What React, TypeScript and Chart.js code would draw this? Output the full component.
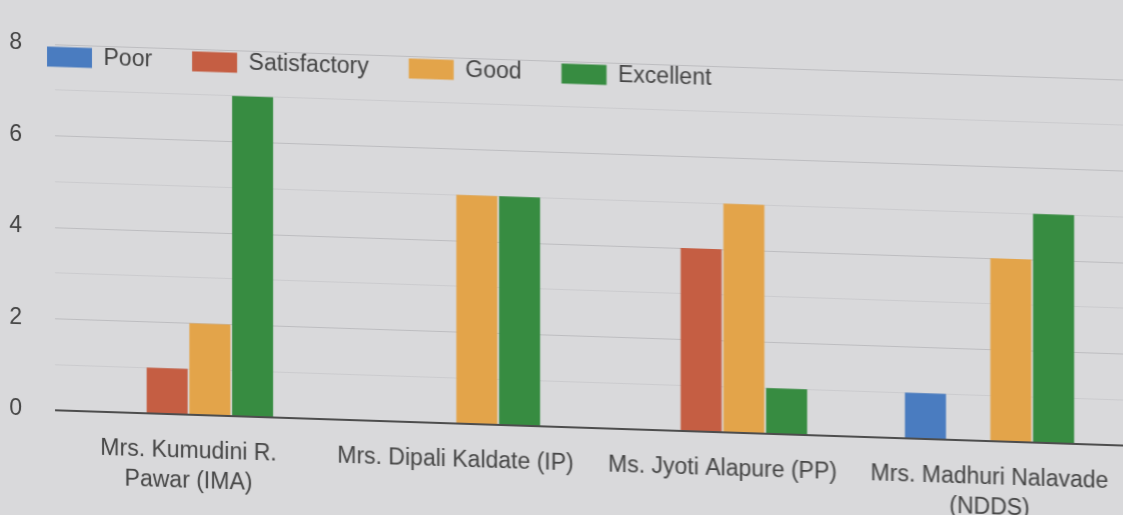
import React, { useEffect, useRef } from "react";
import { Chart, registerables } from "chart.js";

Chart.register(...registerables);

const categories: (string | string[])[] = [
  ["Mrs. Kumudini R.", "Pawar (IMA)"],
  "Mrs. Dipali Kaldate (IP)",
  "Ms. Jyoti Alapure (PP)",
  ["Mrs. Madhuri Nalavade", "(NDDS)"],
];
const seriesNames = ["Poor", "Satisfactory", "Good", "Excellent"];
const poorValues = [0, 0, 0, 1];
const satisfactoryValues = [1, 0, 4, 0];
const goodValues = [2, 5, 5, 4];
const excellentValues = [7, 5, 1, 5];
const yTickLabels = [0, 2, 4, 6, 8];
const seriesColors = ["#4a7cc0", "#c55e43", "#e3a44a", "#378c41"];

export default function App() {
  const ref = useRef<HTMLCanvasElement | null>(null);

  useEffect(() => {
    if (!ref.current) return;
    Chart.defaults.font.family = "'Liberation Sans', Arial, sans-serif";

    const legendPlace = {
      id: "legendPlace",
      afterLayout(chart: any) {
        const lg = chart.legend;
        if (!lg) return;
        lg.left = 7;
        lg.right = 1100;
        lg.top = 22;
        lg.height = 80;
        lg.bottom = lg.top + lg.height;
      },
    };

    const values = [poorValues, satisfactoryValues, goodValues, excellentValues];
    const chart = new Chart(ref.current, {
      type: "bar",
      data: {
        labels: categories,
        datasets: seriesNames.map((name, i) => ({
          label: name,
          data: values[i],
          backgroundColor: seriesColors[i],
          borderWidth: 0,
          barPercentage: 0.96,
          categoryPercentage: 0.64,
        })),
      },
      options: {
        responsive: false,
        animation: false,
        devicePixelRatio: 1,
        layout: { padding: { top: 60, right: 0, left: 0, bottom: 0 } },
        plugins: {
          legend: {
            position: "top",
            align: "start",
            maxHeight: 1,
            labels: {
              boxWidth: 45,
              boxHeight: 20,
              padding: 40,
              color: "#444444",
              font: { size: 23 },
            },
          },
          tooltip: { enabled: false },
        },
        scales: {
          x: {
            afterFit: (s: any) => {
              s.height = 88;
              s.paddingLeft = 0;
              s.paddingRight = 0;
            },
            grid: { display: false, drawTicks: false },
            border: { display: false },
            ticks: {
              padding: 22,
              color: "#444444",
              font: { size: 23, lineHeight: 1.3 },
              maxRotation: 0,
              autoSkip: false,
            },
          },
          y: {
            min: 0,
            max: 8,
            afterFit: (s: any) => {
              s.width = 55;
            },
            border: { display: false },
            grid: {
              drawTicks: false,
              color: (c: any) => {
                const v = c.tick ? c.tick.value : 1;
                if (v === 0) return "#4d4d4d";
                return v % 2 === 0 ? "#bdbdc0" : "#cbcbce";
              },
              lineWidth: (c: any) => (c.tick && c.tick.value === 0 ? 2 : 1),
            },
            ticks: {
              stepSize: 1,
              padding: 33,
              color: "#444444",
              font: { size: 23 },
              autoSkip: false,
              callback: (v: any) => (yTickLabels.includes(Number(v)) ? String(v) : ""),
            },
          },
        },
      },
      plugins: [legendPlace],
    });
    return () => chart.destroy();
  }, []);

  return (
    <div
      style={{
        position: "fixed",
        left: 0,
        top: 0,
        width: 1123,
        height: 515,
        background: "#d9d9db",
        overflow: "hidden",
      }}
    >
      <canvas
        ref={ref}
        width={1123}
        height={515}
        style={{ display: "block", transform: "skewY(1.89deg)", transformOrigin: "50% 50%" }}
      />
    </div>
  );
}
